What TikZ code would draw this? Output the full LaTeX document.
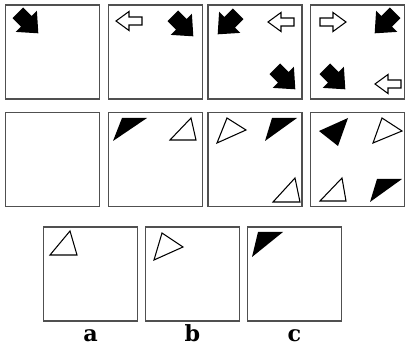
\documentclass[tikz,border=0pt]{standalone}
\usepackage{fontspec}
\newfontfamily\labfont{DejaVu Serif}
\usetikzlibrary{positioning}
\definecolor{framec}{RGB}{80,80,80}

\tikzset{
  pane/.style={draw=framec,line width=1.3pt,minimum width=28.2mm,minimum height=28.2mm,inner sep=0pt},
  blk/.style={fill=black},
  wht/.style={draw=black,fill=white,line width=0.9pt,line join=miter},
  lab/.style={font=\labfont\bfseries\fontsize{19}{19}\selectfont,inner sep=0pt,text height=3.3mm,text depth=0pt},
  blkarr/.pic={\fill (-13,-7.5) -- (-1,-7.5) -- (-1,-15) -- (16,0) -- (-1,15) -- (-1,7.5) -- (-13,7.5) -- cycle;},
  whtarr/.pic={\draw[wht] (-13,-4) -- (0,-4) -- (0,-9.5) -- (13,0) -- (0,9.5) -- (0,4) -- (-13,4) -- cycle;}
}

\begin{document}
\begin{tikzpicture}[x=0.3mm,y=-0.3mm]
\useasboundingbox (0,0) rectangle (406,345);

% ---- row 1: the arrows
\node[pane] (a1) at (52.5,52) {};
\node[pane] (a2) at (155.5,52) {};
\node[pane] (a3) at (255,52) {};
\node[pane] (a4) at (357.5,52) {};

\pic[rotate=-45] at (27,22) {blkarr};
\pic[rotate=180] at (129,21) {whtarr};
\pic[rotate=-45] at (182,25) {blkarr};
\pic[rotate=-135] at (229,23) {blkarr};
\pic[rotate=180] at (281,22) {whtarr};
\pic[rotate=-45] at (284,78) {blkarr};
\pic at (333,22) {whtarr};
\pic[rotate=-135] at (386,22) {blkarr};
\pic[rotate=-45] at (334,78) {blkarr};
\pic[rotate=180] at (388,84) {whtarr};

% ---- row 2: the triangles
\node[pane] (b1) at (52.5,159.5) {};
\node[pane] (b2) at (155.5,159.5) {};
\node[pane] (b3) at (255,159.5) {};
\node[pane] (b4) at (357.5,159.5) {};

\fill[blk] (113,141) -- (147,118) -- (122,118) -- cycle;
\draw[wht] (170,140) -- (196,140) -- (191,118) -- cycle;
\draw[wht] (227,118) -- (246,130) -- (217,143) -- cycle;
\fill[blk] (265,141) -- (297,118) -- (272,118) -- cycle;
\draw[wht] (273,202) -- (300,202) -- (295,178) -- cycle;
\fill[blk] (319,131) -- (348,118) -- (338,146) -- cycle;
\draw[wht] (382,118) -- (402,131) -- (373,143) -- cycle;
\draw[wht] (320,201) -- (346,201) -- (342,178) -- cycle;
\fill[blk] (370,202) -- (402,179) -- (377,179) -- cycle;

% ---- row 3: the answers
\node[pane] (ca) at (90.5,274) {};
\node[pane] (cb) at (192.5,274) {};
\node[pane] (cc) at (294.5,274) {};

\draw[wht] (50,255) -- (77,255) -- (70,231) -- cycle;
\draw[wht] (162,233) -- (183,247) -- (154,260) -- cycle;
\fill[blk] (252,257) -- (283,232) -- (258,232) -- cycle;

\node[lab,below=2.6mm of ca] {a};
\node[lab,below=2.6mm of cb] {b};
\node[lab,below=2.6mm of cc] {c};
\end{tikzpicture}
\end{document}
